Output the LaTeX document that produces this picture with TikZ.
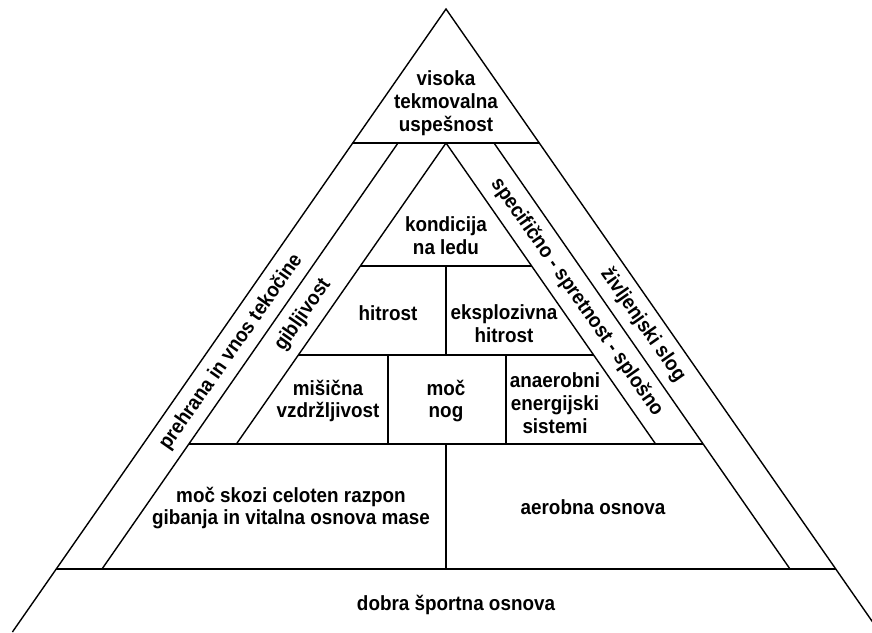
\documentclass[tikz,border=0pt]{standalone}
\usepackage{fontspec}
\setmainfont{Liberation Sans}[FakeStretch=0.92]
\usetikzlibrary{positioning}

\begin{document}
\begin{tikzpicture}[x=1pt,y=-1pt,line width=1.4pt,line join=miter,
  lbl/.style={align=center,inner sep=1pt,font=\fontsize{20.5}{22.8}\selectfont\bfseries},
  band/.style={lbl}]
  \useasboundingbox (0,0) rectangle (872,632);
  \clip (0,0) rectangle (872,632);
  % outer triangle and side bands
  \coordinate (top) at (446,9);
  \draw (12.4,632) -- (top) -- (879.6,632);
  \draw (398,143) -- (102,569);
  \draw (494,143) -- (790,569);
  \draw (352.7,143) -- (539.3,143);
  \draw (56.3,569) -- (835.7,569);
  % inner triangle
  \draw (236.4,444) -- (446,143) -- (655.6,444);
  \draw (188.9,444) -- (703.1,444);
  \draw (360.3,266) -- (531.7,266);
  \draw (298.4,355) -- (593.6,355);
  \draw (446,266) -- (446,355);
  \draw (388,355) -- (388,444);
  \draw (506,355) -- (506,444);
  \draw (446,444) -- (446,569);
  % labels
  \node[lbl] (vrh) at (446,103) {visoka\\tekmovalna\\uspešnost};
  \node[lbl] (led) at (446,236) {kondicija\\na ledu};
  \node[lbl] (hit) at (388,313) {hitrost};
  \node[lbl] (eks) at (504,324) {eksplozivna\\hitrost};
  \node[lbl] (mis) at (328,401) {mišična\\vzdržljivost};
  \node[lbl] (nog) at (446,401) {moč\\nog};
  \node[lbl] (ana) at (555,403) {anaerobni\\energijski\\sistemi};
  \node[lbl] (moc) at (291,508) {moč skozi celoten razpon\\gibanja in vitalna osnova mase};
  \node[lbl] (aer) at (593,507) {aerobna osnova};
  \node[lbl] (osn) at (456,605) {dobra športna osnova};
  \node[band,rotate=55] (preh) at (231,352) {prehrana in vnos tekočine};
  \node[band,rotate=55] (gib) at (303,315) {gibljivost};
  \node[band,rotate=-55] (spec) at (577,297) {specifično - spretnost - splošno};
  \node[band,rotate=-55] (ziv) at (643,325) {življenjski slog};
\end{tikzpicture}
\end{document}
